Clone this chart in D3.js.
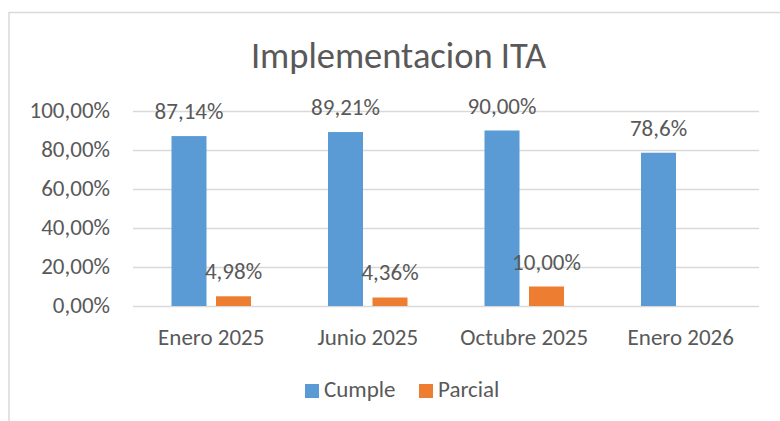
<!DOCTYPE html>
<html>
<head>
<meta charset="utf-8">
<script src="https://cdn.jsdelivr.net/npm/d3@7"></script>
<style>
  body { margin: 0; background: #fff; }
  svg text { font-family: Carlito, Calibri, "Open Sans", sans-serif; fill: #595959; }
  .grid line { stroke: #d9d9d9; stroke-width: 1.3; }
  .grid .domain { display: none; }
</style>
</head>
<body>
<div id="chart"></div>
<script>
// Data
const categories = ['Enero 2025', 'Junio 2025', 'Octubre 2025', 'Enero 2026']
const seriesNames = ['Cumple', 'Parcial']
const cumple = [0.8714, 0.8921, 0.90, 0.786]
const parcial = [0.0498, 0.0436, 0.10, null]
const cumpleLabels = ['87,14%', '89,21%', '90,00%', '78,6%']
const parcialLabels = ['4,98%', '4,36%', '10,00%', '']
const yTicks = [0, 0.2, 0.4, 0.6, 0.8, 1.0]
const yTickLabels = ['0,00%', '20,00%', '40,00%', '60,00%', '80,00%', '100,00%']
const colors = ['#5b9bd5', '#ed7d31']

const drawChart = () => {
  const width = 780
  const height = 421
  const margin = { top: 111, right: 21, bottom: 115, left: 133 }
  const innerWidth = width - margin.left - margin.right
  const innerHeight = height - margin.top - margin.bottom
  const fontSize = '23px'

  const svg = d3.select('#chart')
    .append('svg')
    .attr('width', width)
    .attr('height', height)

  // Chart frame (only top and left edges show in the picture)
  svg.append('rect')
    .attr('x', 9)
    .attr('y', 12.5)
    .attr('width', 900)
    .attr('height', 600)
    .attr('fill', 'none')
    .attr('stroke', '#d9d9d9')
    .attr('stroke-width', 1.5)

  // Title
  svg.append('text')
    .attr('x', 398.5)
    .attr('y', 68)
    .attr('text-anchor', 'middle')
    .style('font-size', '36.5px')
    .text('Implementacion ITA')

  const g = svg.append('g')
    .attr('transform', `translate(${margin.left}, ${margin.top})`)

  // Scales
  const x0 = d3.scaleBand().domain(categories).range([0, innerWidth])
  const x1 = d3.scaleBand().domain(seriesNames).range([0, 79.5]).paddingInner(0.2135)
  const y = d3.scaleLinear().domain([0, 1]).range([innerHeight, 0])
  const groupOffset = (x0.bandwidth() - 79.5) / 2

  // Y gridlines
  g.append('g')
    .attr('class', 'grid')
    .call(d3.axisLeft(y).tickValues(yTicks).tickSize(-innerWidth).tickFormat(''))

  // Y tick labels
  g.selectAll('.y-label')
    .data(yTicks)
    .join('text')
    .attr('class', 'y-label')
    .attr('x', -23)
    .attr('y', d => y(d) + 7)
    .attr('text-anchor', 'end')
    .style('font-size', fontSize)
    .text((d, i) => yTickLabels[i])

  // Bars
  const rows = categories.map((c, i) => ({
    cat: c,
    values: [
      { key: 'Cumple', value: cumple[i], label: cumpleLabels[i], color: colors[0] },
      { key: 'Parcial', value: parcial[i], label: parcialLabels[i], color: colors[1] }
    ].filter(d => d.value != null)
  }))

  const groups = g.selectAll('.cat')
    .data(rows)
    .join('g')
    .attr('class', 'cat')
    .attr('transform', d => `translate(${x0(d.cat) + groupOffset}, 0)`)

  groups.selectAll('rect')
    .data(d => d.values)
    .join('rect')
    .attr('x', d => x1(d.key))
    .attr('y', d => y(d.value))
    .attr('width', x1.bandwidth())
    .attr('height', d => innerHeight - y(d.value))
    .attr('fill', d => d.color)

  // Data labels
  groups.selectAll('.data-label')
    .data(d => d.values)
    .join('text')
    .attr('class', 'data-label')
    .attr('x', d => x1(d.key) + x1.bandwidth() / 2)
    .attr('y', d => y(d.value) - 17)
    .attr('text-anchor', 'middle')
    .style('font-size', fontSize)
    .text(d => d.label)

  // Category labels
  g.selectAll('.x-label')
    .data(categories)
    .join('text')
    .attr('class', 'x-label')
    .attr('x', d => x0(d) + x0.bandwidth() / 2)
    .attr('y', innerHeight + 39)
    .attr('text-anchor', 'middle')
    .style('font-size', fontSize)
    .text(d => d)

  // Legend
  const legendX = [305, 419]
  const legend = svg.selectAll('.legend')
    .data(seriesNames)
    .join('g')
    .attr('class', 'legend')
    .attr('transform', (d, i) => `translate(${legendX[i]}, 384)`)

  legend.append('rect')
    .attr('width', 14)
    .attr('height', 14)
    .attr('fill', (d, i) => colors[i])

  legend.append('text')
    .attr('x', 19)
    .attr('y', 13)
    .style('font-size', fontSize)
    .text(d => d)
}

drawChart()
</script>
</body>
</html>
